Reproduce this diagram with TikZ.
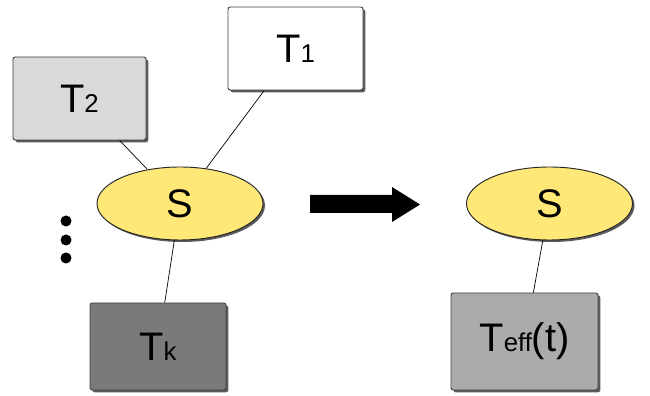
\documentclass[tikz,border=0pt]{standalone}
\usepackage{fontspec}
\setmainfont{Liberation Sans}
\usetikzlibrary{shapes,shadows}
\definecolor{syellow}{HTML}{FFE877}
\definecolor{lgray}{HTML}{D9D9D9}
\definecolor{mgray}{HTML}{ABABAB}
\definecolor{dgray}{HTML}{7A7A7A}
\newcommand{\tsub}[1]{{\fontsize{22}{24}\selectfont #1}}

\begin{document}
\begin{tikzpicture}[x=0.3mm,y=0.3mm,
  every node/.style={font=\fontsize{34}{36}\selectfont, inner sep=0pt},
  tbox/.style={draw=black!75, line width=0.8pt, rounded corners=2pt,
    drop shadow={shadow xshift=0.7mm, shadow yshift=-0.7mm, fill=black!80, opacity=0.8}},
  sell/.style={ellipse, draw=black!85, line width=0.8pt, fill=syellow,
    minimum width=49.8mm, minimum height=21.9mm,
    drop shadow={shadow xshift=0.6mm, shadow yshift=-0.6mm, fill=black!80, opacity=0.8}}]
\useasboundingbox (0,0) rectangle (650,396);

% left side: S with its T boxes
\node[tbox, fill=white, minimum width=40.5mm, minimum height=24.9mm] (t1) at (295.5,347.5) {T\tsub{1}};
\node[tbox, fill=lgray, minimum width=39.9mm, minimum height=24.9mm] (t2) at (79.5,297.5) {T\tsub{2}};
\node[tbox, fill=dgray, minimum width=40.8mm, minimum height=26.1mm] (tk) at (158,49.5) {T\tsub{k}};
\node[sell] (s) at (180,192.5) {S};

\draw[line width=0.6pt] (s) -- (t1);
\draw[line width=0.6pt] (s) -- (t2);
\draw[line width=0.6pt] (s) -- (tk);

% dots
\foreach \y in {175,156,138}
  \fill (66,\y) circle (5.5);

% big arrow
\fill (310,183) -- (392,183) -- (392,174) -- (420,191.5) -- (392,209) -- (392,201) -- (310,201) -- cycle;

% right side: S with T_eff
\node[sell] (s2) at (549.5,192.5) {S};
\node[tbox, fill=mgray, minimum width=44.1mm, minimum height=29.1mm] (teff) at (524.5,54.5) {T\tsub{eff}(t)};

\draw[line width=0.6pt] (s2) -- (teff);

\end{tikzpicture}
\end{document}
